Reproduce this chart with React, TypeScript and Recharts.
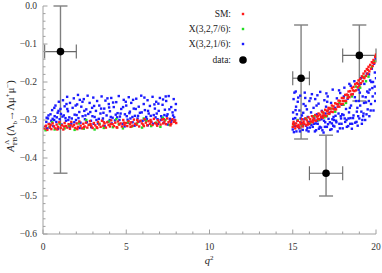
import React from 'react';
import { ScatterChart, Scatter, XAxis, YAxis, ErrorBar } from 'recharts';

// q^2 ticks (major every 5, minor every 1) and A_FB ticks (major every 0.1, minor every 0.02)
const xMajor = [0, 5, 10, 15, 20];
const yMajor = [-0.6, -0.5, -0.4, -0.3, -0.2, -0.1, 0.0];

const xTicks: number[] = [];
for (let i = 0; i <= 20; i++) xTicks.push(i);
const yTicks: number[] = [];
for (let i = -30; i <= 0; i++) yTicks.push(Math.round(i * 2) / 100);

// scan points [q2, A_FB]
const blueLow: [number, number][] = [
  [0.12, -0.318], [0.2, -0.305], [0.25, -0.322], [0.3, -0.296], [0.38, -0.31], [0.45, -0.285], [0.5, -0.302], [0.55, -0.274],
  [0.62, -0.316], [0.7, -0.29], [0.75, -0.262], [0.8, -0.305], [0.88, -0.281], [0.95, -0.252], [1.0, -0.298], [1.05, -0.271],
  [1.12, -0.312], [1.2, -0.248], [1.25, -0.288], [1.3, -0.264], [1.38, -0.302], [1.45, -0.239], [1.5, -0.277], [1.58, -0.293],
  [1.62, -0.255], [1.7, -0.31], [1.78, -0.268], [1.85, -0.243], [1.9, -0.286], [1.98, -0.3], [2.05, -0.259], [2.1, -0.234],
  [2.18, -0.279], [2.25, -0.307], [2.3, -0.265], [2.38, -0.29], [2.45, -0.245], [2.52, -0.298], [2.6, -0.272], [2.68, -0.236],
  [2.72, -0.284], [2.8, -0.255], [2.88, -0.302], [2.95, -0.268], [3.02, -0.241], [3.1, -0.292], [3.18, -0.276], [3.25, -0.25],
  [3.3, -0.309], [3.38, -0.262], [3.45, -0.283], [3.52, -0.238], [3.6, -0.296], [3.68, -0.27], [3.75, -0.249], [3.82, -0.288],
  [3.9, -0.305], [3.95, -0.258], [4.02, -0.277], [4.1, -0.242], [4.18, -0.294], [4.25, -0.266], [4.32, -0.301], [4.4, -0.253],
  [4.48, -0.282], [4.55, -0.237], [4.62, -0.291], [4.7, -0.271], [4.78, -0.31], [4.85, -0.247], [4.92, -0.285], [5.0, -0.262],
  [5.08, -0.299], [5.15, -0.24], [5.22, -0.278], [5.3, -0.255], [5.38, -0.306], [5.45, -0.27], [5.52, -0.289], [5.6, -0.244],
  [5.68, -0.296], [5.75, -0.265], [5.82, -0.281], [5.9, -0.236], [5.98, -0.302], [6.05, -0.258], [6.12, -0.274], [6.2, -0.292],
  [6.28, -0.248], [6.35, -0.283], [6.42, -0.263], [6.5, -0.305], [6.58, -0.239], [6.65, -0.287], [6.72, -0.27], [6.8, -0.252],
  [6.88, -0.298], [6.95, -0.276], [7.02, -0.242], [7.1, -0.29], [7.18, -0.26], [7.25, -0.307], [7.32, -0.273], [7.4, -0.25],
  [7.48, -0.285], [7.55, -0.237], [7.62, -0.297], [7.7, -0.266], [7.78, -0.28], [7.85, -0.245], [7.92, -0.301], [7.98, -0.258],
  [0.4, -0.32], [1.6, -0.318], [2.9, -0.319], [3.7, -0.316], [4.9, -0.317], [6.3, -0.314], [7.5, -0.312], [0.9, -0.323],
  [2.2, -0.321], [5.5, -0.315], [6.9, -0.31], [1.35, -0.295], [2.55, -0.288], [3.35, -0.297], [4.45, -0.293], [5.25, -0.296],
  [6.15, -0.3], [7.15, -0.295], [7.75, -0.3],
  [0.33, -0.288], [0.67, -0.3], [0.93, -0.276], [1.17, -0.291], [1.41, -0.258], [1.73, -0.296], [1.96, -0.262], [2.13, -0.295],
  [2.37, -0.252], [2.63, -0.306], [2.84, -0.279], [3.07, -0.263], [3.21, -0.3], [3.49, -0.27], [3.63, -0.281], [3.87, -0.243],
  [4.07, -0.292], [4.21, -0.254], [4.37, -0.286], [4.59, -0.3], [4.81, -0.266], [5.03, -0.29], [5.19, -0.282], [5.41, -0.247],
  [5.57, -0.271], [5.79, -0.304], [5.93, -0.28], [6.09, -0.241], [6.31, -0.276], [6.47, -0.289], [6.69, -0.259], [6.83, -0.283],
  [7.07, -0.3], [7.21, -0.246], [7.43, -0.29], [7.59, -0.272], [7.81, -0.288], [7.95, -0.274], [0.22, -0.294], [0.58, -0.297],
  [1.08, -0.284], [1.52, -0.3], [2.02, -0.287], [2.48, -0.276], [3.04, -0.31], [3.57, -0.302], [4.13, -0.309], [4.66, -0.283],
  [5.12, -0.307], [5.71, -0.289], [6.24, -0.298], [6.76, -0.293], [7.29, -0.287], [7.88, -0.293], [0.83, -0.293], [1.88, -0.306],
  [2.97, -0.29], [4.01, -0.3], [5.37, -0.292], [6.61, -0.31], [7.69, -0.306], [1.46, -0.271], [3.97, -0.267], [6.93, -0.257],
  [2.21, -0.247], [4.97, -0.252], [7.37, -0.238], [0.68, -0.268],
];

const blueHigh: [number, number][] = [
  [15.0, -0.325], [15.02, -0.28], [15.05, -0.245], [15.08, -0.31], [15.1, -0.228], [15.15, -0.295], [15.2, -0.265], [15.22, -0.33],
  [15.28, -0.302], [15.3, -0.252], [15.35, -0.318], [15.4, -0.275], [15.45, -0.236], [15.5, -0.308], [15.55, -0.288], [15.6, -0.326],
  [15.65, -0.258], [15.7, -0.298], [15.75, -0.242], [15.8, -0.315], [15.85, -0.272], [15.9, -0.292], [15.95, -0.33], [16.0, -0.25],
  [16.05, -0.305], [16.1, -0.28], [16.15, -0.232], [16.2, -0.318], [16.25, -0.268], [16.3, -0.296], [16.35, -0.245], [16.4, -0.327],
  [16.45, -0.285], [16.5, -0.31], [16.55, -0.257], [16.6, -0.3], [16.65, -0.226], [16.7, -0.32], [16.75, -0.276], [16.8, -0.29],
  [16.85, -0.333], [16.9, -0.248], [16.95, -0.306], [17.0, -0.265], [17.05, -0.318], [17.1, -0.238], [17.15, -0.297], [17.2, -0.281],
  [17.25, -0.326], [17.3, -0.255], [17.35, -0.309], [17.4, -0.22], [17.45, -0.292], [17.5, -0.317], [17.55, -0.268], [17.6, -0.302],
  [17.65, -0.243], [17.7, -0.33], [17.75, -0.283], [17.8, -0.31], [17.85, -0.229], [17.9, -0.296], [17.95, -0.26], [18.0, -0.322],
  [18.05, -0.287], [18.1, -0.215], [18.15, -0.305], [18.2, -0.271], [18.25, -0.318], [18.3, -0.244], [18.35, -0.296], [18.4, -0.205],
  [18.45, -0.31], [18.5, -0.262], [18.55, -0.323], [18.6, -0.232], [18.65, -0.288], [18.7, -0.198], [18.75, -0.307], [18.8, -0.25],
  [18.85, -0.278], [18.9, -0.315], [18.95, -0.22], [19.0, -0.296], [19.05, -0.262], [19.1, -0.19], [19.15, -0.31], [19.2, -0.238],
  [19.25, -0.283], [19.3, -0.205], [19.35, -0.3], [19.4, -0.254], [19.45, -0.178], [19.5, -0.272], [19.55, -0.228], [19.6, -0.29],
  [19.65, -0.196], [19.7, -0.258], [19.75, -0.165], [19.8, -0.238], [19.85, -0.275], [19.88, -0.152], [19.92, -0.212], [19.95, -0.25],
  [19.98, -0.138], [20.0, -0.19], [15.12, -0.316], [15.38, -0.322], [15.62, -0.314], [15.88, -0.321], [16.12, -0.313], [16.38, -0.309],
  [16.62, -0.318], [16.88, -0.302], [17.12, -0.311], [17.38, -0.298], [17.62, -0.306], [17.88, -0.29], [18.12, -0.296], [18.38, -0.28],
  [18.62, -0.295], [18.88, -0.268], [19.12, -0.278], [19.38, -0.24], [19.62, -0.22], [19.82, -0.2], [15.25, -0.285], [16.22, -0.29],
  [17.18, -0.27], [18.18, -0.25],
  [15.03, -0.297], [15.17, -0.274], [15.33, -0.241], [15.47, -0.296], [15.63, -0.281], [15.77, -0.263], [15.93, -0.305], [16.07, -0.243],
  [16.27, -0.31], [16.43, -0.262], [16.57, -0.323], [16.73, -0.298], [16.97, -0.283], [17.07, -0.252], [17.23, -0.306], [17.43, -0.315],
  [17.57, -0.289], [17.73, -0.259], [17.93, -0.31], [18.07, -0.238], [18.23, -0.3], [18.43, -0.268], [18.57, -0.31], [18.73, -0.24],
  [18.93, -0.29], [19.03, -0.228], [19.18, -0.3], [19.28, -0.255], [19.43, -0.285], [19.57, -0.25], [19.68, -0.275], [19.78, -0.216],
  [19.93, -0.175], [19.97, -0.23], [15.07, -0.332], [15.43, -0.33], [15.83, -0.327], [16.33, -0.33], [16.78, -0.327], [17.33, -0.324],
  [17.83, -0.322], [18.33, -0.316], [18.83, -0.305], [19.23, -0.29], [15.58, -0.31], [16.03, -0.32], [16.47, -0.302], [16.93, -0.318],
  [17.47, -0.3], [17.97, -0.285], [18.47, -0.295], [18.97, -0.25], [19.47, -0.225], [19.72, -0.2], [15.18, -0.225], [15.72, -0.228],
  [16.48, -0.235], [17.02, -0.23], [17.78, -0.222], [18.48, -0.21], [19.08, -0.205], [19.58, -0.18],
];

const greenLow: [number, number][] = [
  [0.15, -0.327], [0.4, -0.318], [0.7, -0.325], [1.0, -0.31], [1.3, -0.322], [1.55, -0.315], [1.9, -0.326], [2.15, -0.309],
  [2.45, -0.323], [2.8, -0.312], [3.1, -0.325], [3.4, -0.31], [3.65, -0.321], [3.95, -0.304], [4.2, -0.319], [4.55, -0.311],
  [4.8, -0.322], [5.1, -0.306], [5.35, -0.317], [5.65, -0.309], [5.95, -0.32], [6.2, -0.302], [6.5, -0.316], [6.8, -0.307],
  [7.05, -0.318], [7.35, -0.3], [7.6, -0.313], [7.9, -0.303], [0.55, -0.306], [2.6, -0.3], [4.4, -0.298], [6.05, -0.296],
  [7.2, -0.294],
];

const greenHigh: [number, number][] = [
  [15.05, -0.312], [15.3, -0.3], [15.55, -0.315], [15.8, -0.296], [16.05, -0.308], [16.3, -0.29], [16.55, -0.3], [16.8, -0.28],
  [17.05, -0.29], [17.3, -0.27], [17.55, -0.278], [17.8, -0.255], [18.05, -0.26], [18.3, -0.236], [18.55, -0.238], [18.8, -0.212],
  [19.05, -0.215], [19.3, -0.186], [19.55, -0.186], [19.75, -0.16], [19.9, -0.145], [20.0, -0.132], [16.9, -0.293], [18.2, -0.255],
  [19.4, -0.198],
];

const smLow: [number, number][] = [
  [0.1, -0.322], [0.18, -0.315], [0.26, -0.326], [0.34, -0.311], [0.42, -0.319], [0.5, -0.324], [0.58, -0.309], [0.66, -0.317],
  [0.74, -0.322], [0.82, -0.312], [0.9, -0.318], [0.98, -0.306], [1.06, -0.321], [1.14, -0.314], [1.22, -0.325], [1.3, -0.308],
  [1.38, -0.316], [1.46, -0.32], [1.54, -0.311], [1.62, -0.323], [1.7, -0.305], [1.78, -0.317], [1.86, -0.313], [1.94, -0.321],
  [2.02, -0.309], [2.1, -0.318], [2.18, -0.304], [2.26, -0.315], [2.34, -0.322], [2.42, -0.31], [2.5, -0.317], [2.58, -0.307],
  [2.66, -0.32], [2.74, -0.313], [2.82, -0.303], [2.9, -0.316], [2.98, -0.321], [3.06, -0.308], [3.14, -0.314], [3.22, -0.319],
  [3.3, -0.305], [3.38, -0.312], [3.46, -0.318], [3.54, -0.302], [3.62, -0.315], [3.7, -0.309], [3.78, -0.32], [3.86, -0.306],
  [3.94, -0.313], [4.02, -0.317], [4.1, -0.301], [4.18, -0.311], [4.26, -0.316], [4.34, -0.307], [4.42, -0.319], [4.5, -0.304],
  [4.58, -0.312], [4.66, -0.309], [4.74, -0.317], [4.82, -0.3], [4.9, -0.313], [4.98, -0.308], [5.06, -0.316], [5.14, -0.303],
  [5.22, -0.311], [5.3, -0.306], [5.38, -0.315], [5.46, -0.299], [5.54, -0.31], [5.62, -0.313], [5.7, -0.305], [5.78, -0.317],
  [5.86, -0.302], [5.94, -0.309], [6.02, -0.312], [6.1, -0.298], [6.18, -0.307], [6.26, -0.314], [6.34, -0.303], [6.42, -0.31],
  [6.5, -0.305], [6.58, -0.313], [6.66, -0.297], [6.74, -0.308], [6.82, -0.311], [6.9, -0.301], [6.98, -0.306], [7.06, -0.312],
  [7.14, -0.299], [7.22, -0.309], [7.3, -0.304], [7.38, -0.311], [7.46, -0.296], [7.54, -0.306], [7.62, -0.302], [7.7, -0.31],
  [7.78, -0.298], [7.86, -0.305], [7.94, -0.301], [8.0, -0.308], [0.14, -0.318], [0.46, -0.313], [0.86, -0.325], [1.26, -0.317],
  [1.66, -0.314], [2.06, -0.324], [2.46, -0.319], [2.86, -0.311], [3.26, -0.321], [3.66, -0.306], [4.06, -0.31], [4.46, -0.32],
  [4.86, -0.307], [5.26, -0.318], [5.66, -0.3], [6.06, -0.316], [6.46, -0.3], [6.86, -0.315], [7.26, -0.298], [7.66, -0.314],
];

const smHigh: [number, number][] = [
  [15.0, -0.318], [15.05, -0.305], [15.1, -0.314], [15.15, -0.322], [15.2, -0.309], [15.25, -0.316], [15.3, -0.302], [15.35, -0.313],
  [15.4, -0.32], [15.45, -0.306], [15.5, -0.311], [15.55, -0.298], [15.6, -0.317], [15.65, -0.304], [15.7, -0.31], [15.75, -0.296],
  [15.8, -0.314], [15.85, -0.301], [15.9, -0.307], [15.95, -0.293], [16.0, -0.31], [16.05, -0.298], [16.1, -0.304], [16.15, -0.29],
  [16.2, -0.306], [16.25, -0.295], [16.3, -0.301], [16.35, -0.287], [16.4, -0.302], [16.45, -0.291], [16.5, -0.297], [16.55, -0.283],
  [16.6, -0.298], [16.65, -0.286], [16.7, -0.292], [16.75, -0.278], [16.8, -0.294], [16.85, -0.281], [16.9, -0.288], [16.95, -0.273],
  [17.0, -0.29], [17.05, -0.276], [17.1, -0.283], [17.15, -0.268], [17.2, -0.284], [17.25, -0.27], [17.3, -0.278], [17.35, -0.262],
  [17.4, -0.279], [17.45, -0.264], [17.5, -0.272], [17.55, -0.256], [17.6, -0.272], [17.65, -0.258], [17.7, -0.265], [17.75, -0.249],
  [17.8, -0.265], [17.85, -0.25], [17.9, -0.258], [17.95, -0.242], [18.0, -0.258], [18.05, -0.242], [18.1, -0.25], [18.15, -0.234],
  [18.2, -0.25], [18.25, -0.233], [18.3, -0.242], [18.35, -0.225], [18.4, -0.24], [18.45, -0.224], [18.5, -0.233], [18.55, -0.216],
  [18.6, -0.232], [18.65, -0.213], [18.7, -0.224], [18.75, -0.206], [18.8, -0.222], [18.85, -0.203], [18.9, -0.214], [18.95, -0.196],
  [19.0, -0.21], [19.05, -0.192], [19.1, -0.203], [19.15, -0.185], [19.2, -0.198], [19.25, -0.178], [19.3, -0.19], [19.35, -0.172],
  [19.4, -0.184], [19.45, -0.166], [19.5, -0.178], [19.55, -0.16], [19.6, -0.172], [19.65, -0.155], [19.7, -0.165], [19.75, -0.148],
  [19.8, -0.158], [19.85, -0.142], [19.9, -0.15], [19.95, -0.134], [20.0, -0.128], [15.02, -0.31], [15.32, -0.318], [15.62, -0.308],
  [15.92, -0.312], [16.22, -0.3], [16.52, -0.29], [16.82, -0.288], [17.12, -0.275], [17.42, -0.27], [17.72, -0.258], [18.02, -0.25],
  [18.32, -0.235], [18.62, -0.222], [18.92, -0.205], [19.22, -0.188], [19.52, -0.168], [19.82, -0.15],
];

// measured bins: centre, value, q2 half-widths, [lower, upper] error
const dataQ2 = [1.05, 15.5, 17.0, 19.0];
const dataA = [-0.12, -0.19, -0.44, -0.13];
const dataQ2Err = [[0.95, 0.95], [0.5, 0.5], [1.0, 1.0], [1.0, 1.0]];
const dataAErr = [[0.32, 0.12], [0.16, 0.14], [0.06, 0.1], [0.12, 0.08]];

const toPts = (arr: [number, number][]) => arr.map(([x, y]) => ({ x, y }));
const blueData = toPts([...blueLow, ...blueHigh]);
const greenData = toPts([...greenLow, ...greenHigh]);
const smData = toPts([...smLow, ...smHigh]);
const measData = dataQ2.map((x, i) => ({ x, y: dataA[i], ex: dataQ2Err[i], ey: dataAErr[i] }));

const FONT = '"Liberation Serif", "DejaVu Serif", serif';
const FRAME = '#a0a0a0';
const LABEL = '#333';

const fmtY = (v: number) => (v < 0 ? '\u2212' : '') + Math.abs(v).toFixed(1);

const XTick = (props: any) => {
  const { x, y, payload, side } = props;
  const v = payload.value;
  const major = xMajor.includes(v);
  const len = major ? 4.5 : 2.5;
  const dir = side === 'top' ? 1 : -1;
  return (
    <g>
      <line x1={x} x2={x} y1={y} y2={y + dir * len} stroke={FRAME} />
      {side !== 'top' && major && (
        <text x={x} y={y + 16} textAnchor="middle" fontFamily={FONT} fontSize={9.5} fill={LABEL}>
          {v}
        </text>
      )}
    </g>
  );
};

const YTick = (props: any) => {
  const { x, y, payload, side } = props;
  const v = payload.value;
  const major = yMajor.some((m) => Math.abs(m - v) < 1e-6);
  const len = major ? 4.5 : 2.5;
  const dir = side === 'right' ? -1 : 1;
  return (
    <g>
      <line x1={x} x2={x + dir * len} y1={y} y2={y} stroke={FRAME} />
      {side !== 'right' && major && (
        <text x={x - 6} y={y + 3.3} textAnchor="end" fontFamily={FONT} fontSize={9.5} fill={LABEL}>
          {fmtY(v)}
        </text>
      )}
    </g>
  );
};

const dot = (color: string) => (p: any) => (
  <rect x={p.cx - 1.2} y={p.cy - 1.2} width={2.4} height={2.4} fill={color} />
);
const bigDot = (p: any) => <circle cx={p.cx} cy={p.cy} r={3.8} fill="#000" />;

const legendRows = [
  { label: 'SM:', color: '#ff1a1a', y: 14 },
  { label: 'X(3,2,7/6):', color: '#22dd22', y: 29 },
  { label: 'X(3,2,1/6):', color: '#1a1aff', y: 44 },
  { label: 'data:', color: '#000', y: 60 },
];

const App: React.FC = () => {
  return (
    <div style={{ position: 'absolute', left: 0, top: 0, width: 382, height: 273, background: '#fff' }}>
      <ScatterChart width={382} height={273} margin={{ top: 6, right: 6, bottom: 14, left: 0 }}>
        <XAxis
          xAxisId="b" type="number" dataKey="x" domain={[0, 20]} ticks={xTicks} interval={0}
          allowDataOverflow tickLine={false} tickSize={0} tickMargin={0} height={25}
          axisLine={{ stroke: FRAME }} tick={<XTick side="bottom" />}
        />
        <XAxis
          xAxisId="t" orientation="top" type="number" dataKey="x" domain={[0, 20]} ticks={xTicks} interval={0}
          allowDataOverflow tickLine={false} tickSize={0} tickMargin={0} height={0}
          axisLine={{ stroke: FRAME }} tick={<XTick side="top" />}
        />
        <YAxis
          yAxisId="l" type="number" dataKey="y" domain={[-0.6, 0]} ticks={yTicks} interval={0}
          allowDataOverflow tickLine={false} tickSize={0} tickMargin={0} width={43}
          axisLine={{ stroke: FRAME }} tick={<YTick side="left" />}
        />
        <YAxis
          yAxisId="r" orientation="right" type="number" dataKey="y" domain={[-0.6, 0]} ticks={yTicks} interval={0}
          allowDataOverflow tickLine={false} tickSize={0} tickMargin={0} width={0}
          axisLine={{ stroke: FRAME }} tick={<YTick side="right" />}
        />
        <Scatter name="X(3,2,1/6)" data={blueData} xAxisId="b" yAxisId="l" shape={dot('#1a1aff')} isAnimationActive={false} />
        <Scatter name="X(3,2,7/6)" data={greenData} xAxisId="b" yAxisId="l" shape={dot('#22dd22')} isAnimationActive={false} />
        <Scatter name="SM" data={smData} xAxisId="b" yAxisId="l" shape={dot('#ff1a1a')} isAnimationActive={false} />
        <Scatter name="data" data={measData} xAxisId="b" yAxisId="l" shape={bigDot} isAnimationActive={false}>
          <ErrorBar dataKey="ey" direction="y" width={7} stroke="#808080" strokeWidth={1.4} isAnimationActive={false} />
          <ErrorBar dataKey="ex" direction="x" width={7} stroke="#666" strokeWidth={1.1} isAnimationActive={false} />
        </Scatter>
      </ScatterChart>
      <svg width={382} height={273} style={{ position: 'absolute', left: 0, top: 0, pointerEvents: 'none' }}>
        {legendRows.map((r) => (
          <g key={r.label}>
            <text x={231} y={r.y + 3.3} textAnchor="end" fontFamily={FONT} fontSize={9.5} fill="#222">
              {r.label}
            </text>
            {r.label === 'data:' ? (
              <circle cx={243} cy={r.y} r={3.8} fill="#000" />
            ) : (
              <rect x={241.8} y={r.y - 1.2} width={2.4} height={2.4} fill={r.color} />
            )}
          </g>
        ))}
        <text x={209} y={264} textAnchor="middle" fontFamily={FONT} fontSize={10.5} fill="#222">
          <tspan fontStyle="italic">q</tspan>
          <tspan dy={-4} fontSize={7}>2</tspan>
        </text>
        <text x={14} y={116} transform="rotate(-90 14 116)" textAnchor="middle" fontFamily={FONT} fontSize={10.5} fill="#222">
          <tspan fontStyle="italic">A</tspan>
          <tspan dy={3} fontSize={7}>FB</tspan>
          <tspan dx={-8} dy={-8} fontSize={7}>Λ</tspan>
          <tspan dx={4} dy={5}>(Λ</tspan>
          <tspan dy={2.5} fontSize={7}>b</tspan>
          <tspan dy={-2.5}>→Λμ</tspan>
          <tspan dy={-4} fontSize={7}>+</tspan>
          <tspan dy={4}>μ</tspan>
          <tspan dy={-4} fontSize={7}>−</tspan>
          <tspan dy={4}>)</tspan>
        </text>
      </svg>
    </div>
  );
};

export default App;
